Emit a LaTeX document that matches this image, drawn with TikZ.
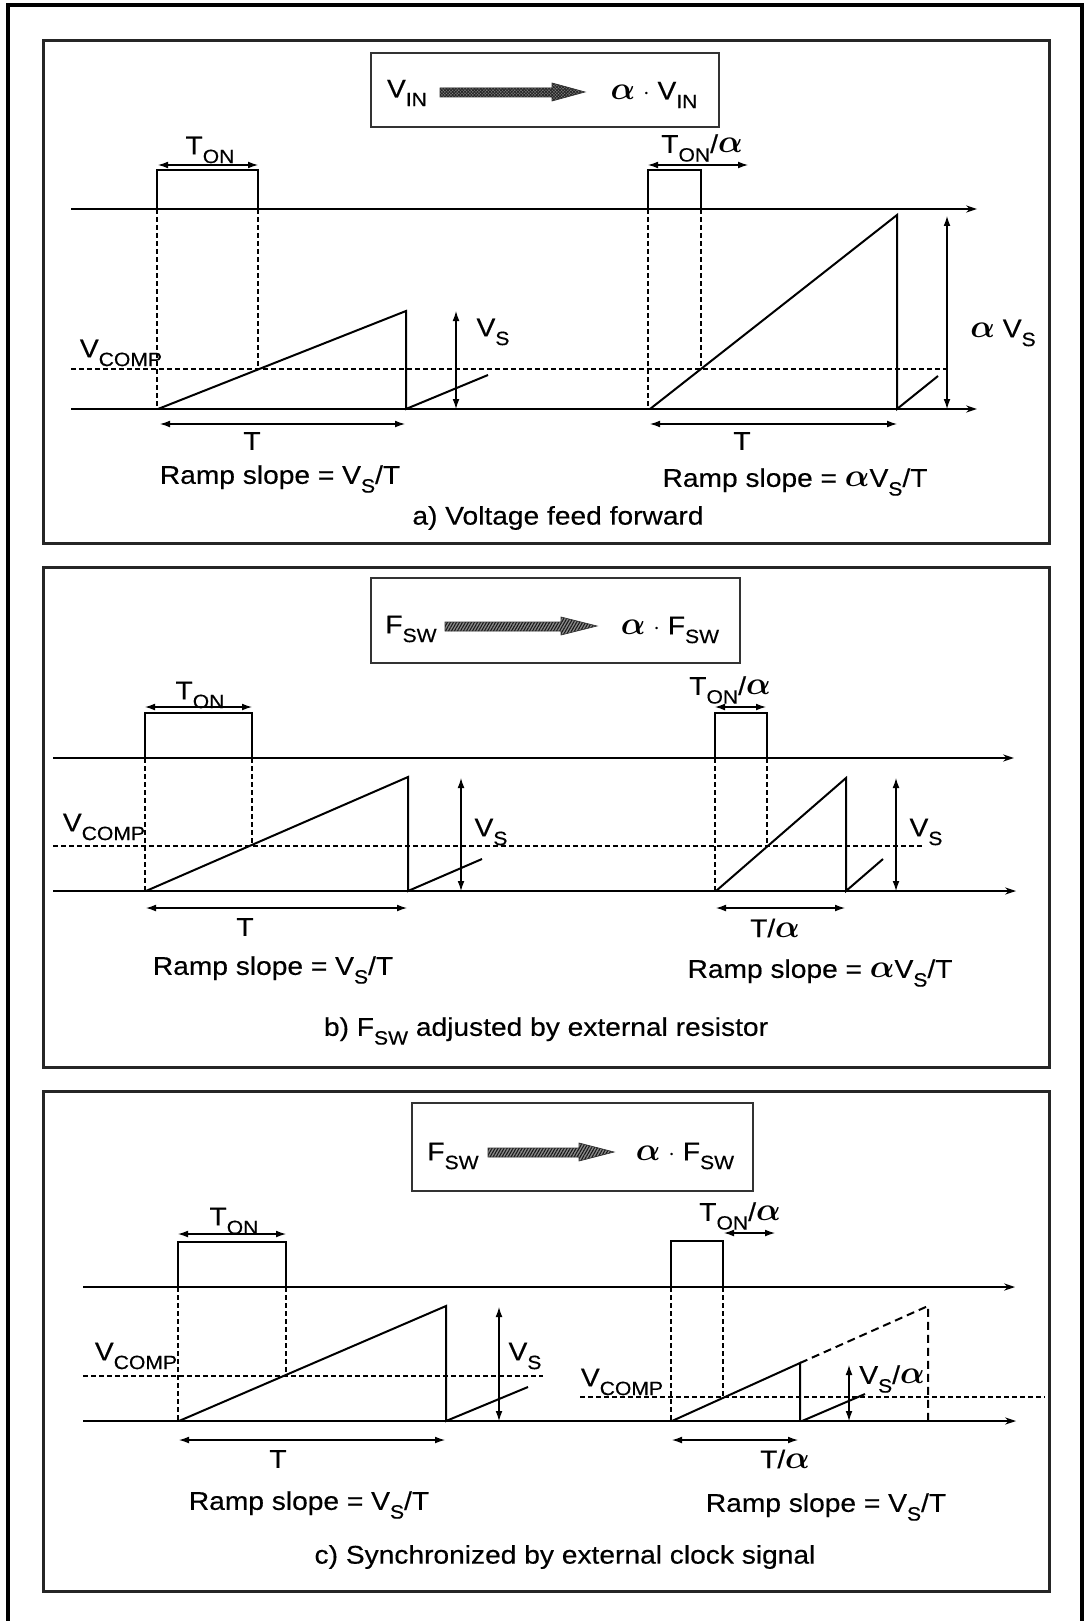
\documentclass[tikz,border=0pt]{standalone}
\usepackage{fontspec}
\setmainfont{Liberation Sans}[FakeStretch=1.1,FakeBold=0.4]
\usepackage{graphicx}
\usetikzlibrary{arrows.meta,patterns.meta}
\newcommand{\lowsub}[1]{\raisebox{-0.34em}{\scalebox{0.75}{#1}}}
\newcommand{\al}{\scalebox{1.35}{\boldmath$\alpha$}}

\begin{document}
\begin{tikzpicture}[x=0.5pt, y=-0.5pt,
    panel/.style={draw=black!85, line width=1.5pt},
    infobox/.style={draw=black!80, line width=0.75pt},
    txt/.style={inner sep=0pt, font=\fontsize{12.8pt}{14pt}\selectfont},
    dimline/.style={line width=0.55pt, {Latex[length=5pt,width=3.4pt]}-{Latex[length=5pt,width=3.4pt]}},
    thinaxis/.style={line width=0.55pt, -{Stealth[length=5.5pt,width=3.6pt]}},
    thickaxis/.style={line width=1.1pt, -{Stealth[length=5.5pt,width=3.6pt]}},
    guide/.style={line width=0.6pt, dash pattern=on 2.5pt off 1.5pt},
    ramp/.style={line width=1pt},
    pulse/.style={line width=0.75pt},
    fatarrow/.style={draw=black!80, line width=0.35pt, preaction={fill=black!45}}
]
\useasboundingbox (0,0) rectangle (1084,1621);
\draw[line width=2pt] (8,1621) -- (8,5) -- (1082,5) -- (1082,1621);

% a) voltage feed forward
\draw[panel] (43,41) rectangle (1049,543);
\draw[infobox] (371,53) rectangle (719,127);
\node[txt] (vin) at (407,93) {V\lowsub{IN}};
\node[txt] (avin) at (654,95) {\al{} $\cdot$ V\lowsub{IN}};
\draw[fatarrow, pattern={Hatch[angle=45,distance=1.1pt,line width=0.45pt]}, pattern color=black!85]
  (440,88) -- (552,88) -- (552,83) -- (585,92) -- (552,101) -- (552,97) -- (440,97) -- cycle;
\draw[thinaxis] (71,209) -- (977,209);
\draw[thickaxis] (71,409) -- (977,409);
\draw[guide] (71,369) -- (946,369);
\node[txt] (vcompa) at (121,353) {V\lowsub{COMP}};
\node[txt] (tona) at (210,150) {T\lowsub{ON}};
\draw[dimline] (158,165) -- (258,165);
\draw[pulse] (157,209) -- (157,170) -- (258,170) -- (258,209);
\draw[guide] (157,209) -- (157,409);
\draw[guide] (258,209) -- (258,369);
\draw[ramp] (158,409) -- (406,311) -- (406,409) -- (488,375);
\draw[dimline] (456,311) -- (456,409);
\node[txt] (vsa) at (493,332) {V\lowsub{S}};
\draw[dimline] (160,424) -- (405,424);
\node[txt] (ta) at (252,441) {T};
\node[txt] (slopea) at (280,479) {Ramp slope = V\lowsub{S}/T};
\node[txt] (tonaa) at (702,148) {T\lowsub{ON}/\al};
\draw[dimline] (648,165) -- (748,165);
\draw[pulse] (648,209) -- (648,170) -- (701,170) -- (701,209);
\draw[guide] (648,209) -- (648,409);
\draw[guide] (701,209) -- (701,369);
\draw[ramp] (650,409) -- (897,215) -- (897,409) -- (938,376);
\draw[dimline] (947,216) -- (947,409);
\node[txt] (avsa) at (1003,333) {\al{} V\lowsub{S}};
\draw[dimline] (650,424) -- (897,424);
\node[txt] (taa) at (742,441) {T};
\node[txt] (slopeaa) at (795,482) {Ramp slope = \al V\lowsub{S}/T};
\node[txt] (capa) at (558,518) {a) Voltage feed forward};

% b) Fsw adjusted by external resistor
\draw[panel] (43,567) rectangle (1049,1067);
\draw[infobox] (371,578) rectangle (740,663);
\node[txt] (fswb) at (411,629) {F\lowsub{SW}};
\node[txt] (afswb) at (670,630) {\al{} $\cdot$ F\lowsub{SW}};
\draw[fatarrow, pattern={Lines[angle=60,distance=1.3pt,line width=0.55pt]}, pattern color=black!90]
  (445,622) -- (561,622) -- (561,617) -- (597,626) -- (561,635) -- (561,631) -- (445,631) -- cycle;
\draw[thickaxis] (53,758) -- (1014,758);
\draw[thinaxis] (53,891) -- (1016,891);
\draw[guide] (53,846) -- (923,846);
\node[txt] (vcompb) at (104,827) {V\lowsub{COMP}};
\node[txt] (tonb) at (200,695) {T\lowsub{ON}};
\draw[dimline] (145,707) -- (252,707);
\draw[pulse] (145,758) -- (145,713) -- (252,713) -- (252,758);
\draw[guide] (145,758) -- (145,891);
\draw[guide] (252,758) -- (252,846);
\draw[ramp] (146,891) -- (408,777) -- (408,891) -- (482,859);
\draw[dimline] (461,778) -- (461,891);
\node[txt] (vsb) at (491,832) {V\lowsub{S}};
\draw[dimline] (146,908) -- (407,908);
\node[txt] (tb) at (245,927) {T};
\node[txt] (slopeb) at (273,970) {Ramp slope = V\lowsub{S}/T};
\node[txt] (tonbb) at (730,690) {T\lowsub{ON}/\al};
\draw[dimline] (715,707) -- (766,707);
\draw[pulse] (715,758) -- (715,713) -- (767,713) -- (767,758);
\draw[guide] (715,758) -- (715,891);
\draw[guide] (767,758) -- (767,846);
\draw[ramp] (716,891) -- (846,778) -- (846,891) -- (883,859);
\draw[dimline] (896,778) -- (896,891);
\node[txt] (vsbb) at (926,832) {V\lowsub{S}};
\draw[dimline] (716,908) -- (845,908);
\node[txt] (tbb) at (775,928) {T/\al};
\node[txt] (slopebb) at (820,973) {Ramp slope = \al V\lowsub{S}/T};
\node[txt] (capb) at (546,1031) {b) F\lowsub{SW} adjusted by external resistor};

% c) synchronized by external clock signal
\draw[panel] (43,1091) rectangle (1049,1591);
\draw[infobox] (412,1103) rectangle (753,1191);
\node[txt] (fswc) at (453,1156) {F\lowsub{SW}};
\node[txt] (afswc) at (685,1156) {\al{} $\cdot$ F\lowsub{SW}};
\draw[fatarrow, pattern={Lines[angle=60,distance=1.3pt,line width=0.55pt]}, pattern color=black!90]
  (488,1148) -- (579,1148) -- (579,1143) -- (614,1152) -- (579,1161) -- (579,1157) -- (488,1157) -- cycle;
\draw[thickaxis] (83,1287) -- (1015,1287);
\draw[thinaxis] (83,1421) -- (1016,1421);
\draw[guide] (83,1376) -- (543,1376);
\draw[guide] (580,1397) -- (1045,1397);
\node[txt] (vcompc) at (136,1356) {V\lowsub{COMP}};
\node[txt] (tonc) at (234,1221) {T\lowsub{ON}};
\draw[dimline] (178,1234) -- (286,1234);
\draw[pulse] (178,1287) -- (178,1242) -- (286,1242) -- (286,1287);
\draw[guide] (178,1287) -- (178,1421);
\draw[guide] (286,1287) -- (286,1376);
\draw[ramp] (179,1421) -- (446,1306) -- (446,1421) -- (528,1387);
\draw[dimline] (499,1307) -- (499,1421);
\node[txt] (vsc) at (525,1356) {V\lowsub{S}};
\draw[dimline] (179,1440) -- (445,1440);
\node[txt] (tc) at (278,1459) {T};
\node[txt] (slopec) at (309,1505) {Ramp slope = V\lowsub{S}/T};
\node[txt] (vcompcc) at (622,1382) {V\lowsub{COMP}};
\node[txt] (toncc) at (740,1216) {T\lowsub{ON}/\al};
\draw[dimline] (724,1233) -- (775,1233);
\draw[pulse] (671,1287) -- (671,1241) -- (723,1241) -- (723,1287);
\draw[guide] (671,1287) -- (671,1421);
\draw[guide] (723,1287) -- (723,1397);
\draw[ramp] (672,1421) -- (800,1363) -- (800,1421);
\draw[ramp] (802,1421) -- (865,1394);
\draw[ramp, dash pattern=on 4pt off 2.5pt] (800,1363) -- (928,1306) -- (928,1421);
\draw[dimline] (849,1365) -- (849,1421);
\node[txt] (vsacc) at (892,1379) {V\lowsub{S}/\al};
\draw[dimline] (672,1440) -- (798,1440);
\node[txt] (tcc) at (785,1459) {T/\al};
\node[txt] (slopecc) at (826,1507) {Ramp slope = V\lowsub{S}/T};
\node[txt] (capc) at (565,1557) {c) Synchronized by external clock signal};
\end{tikzpicture}
\end{document}
